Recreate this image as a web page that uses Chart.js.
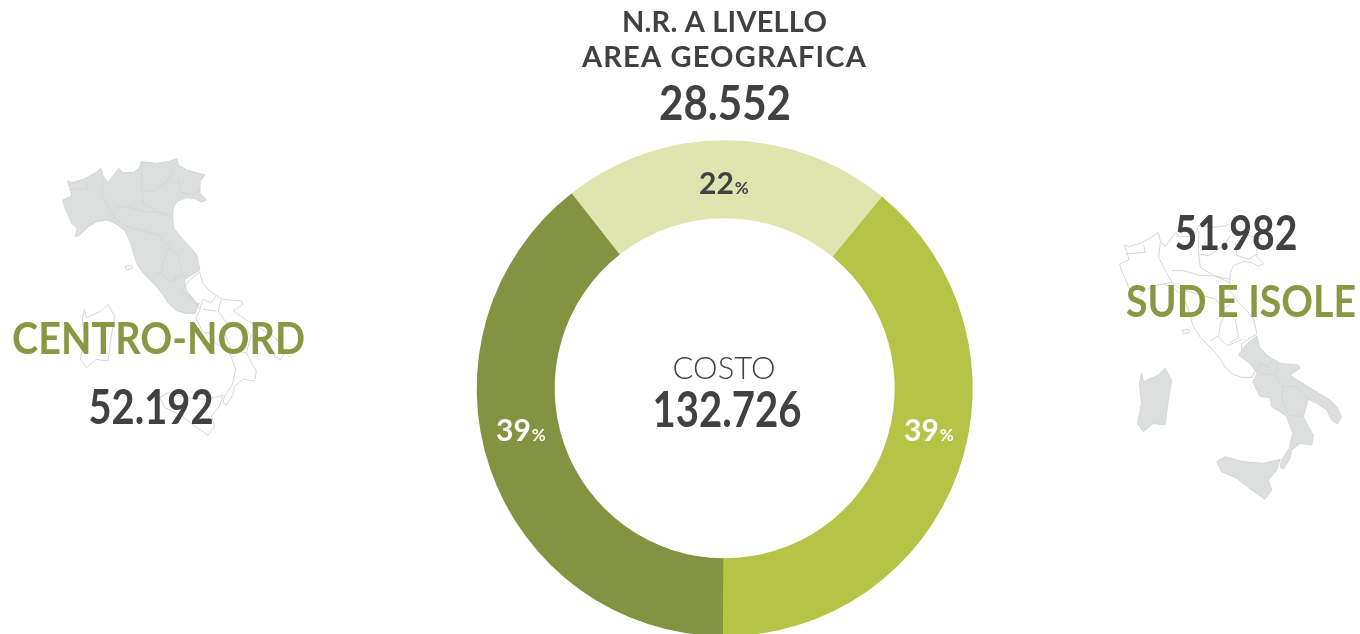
<!DOCTYPE html>
<html><head><meta charset="utf-8">
<style>html,body{margin:0;padding:0;background:#fff;overflow:hidden}#w{position:absolute;left:0;top:0;width:1360px;height:640px}</style>
<script src="https://cdn.jsdelivr.net/npm/chart.js@4"></script></head>
<body><div id="w"><canvas id="c" width="1360" height="640"></canvas></div>
<script>
const categories = ["N.R. a livello area geografica","Sud e Isole","Centro-Nord"];
const costValues = [28552,51982,52192];
const percentLabels = ["22","39","39"];
const sliceColors = ["#dfe5ae","#b5c447","#849341"];
const DARK="#404143", GREEN="#8a9844", MAP="#dddfdf", LINE="#d4d6d6";
const FONT='Lato, sans-serif';

// decorative map outlines, in zoom-crop units
const north=[203,122,215,128,250,118,275,105,290,95,303,85,310,110,325,128,345,100,357,85,368,98,400,98,418,85,424,65,470,70,505,65,530,55,535,75,560,90,615,105,600,125,600,160,620,180,603,186,590,178,560,172,530,185,520,205,518,225,520,262,545,295,570,320,590,345,600,390,575,405,553,420,556,440,560,452,590,490,598,490,585,520,555,520,530,512,505,490,490,465,465,435,440,410,430,400,410,370,402,345,392,310,375,272,345,250,320,240,290,245,265,260,240,285,225,290,232,265,215,250,205,225,195,205,188,180,215,168,212,150,203,125];
const northLines=[[310,115,305,160,325,200,345,235],[425,80,425,150,430,190,470,215,515,225],[345,200,380,200,430,215,470,215,518,235],[320,240,345,235,370,255],[370,255,420,270,475,285,500,315,520,300],[425,150,455,155,500,125,520,95],[535,120,540,155,575,165,600,150],[510,320,490,360,485,395,460,410],[510,325,535,345,545,400,520,415],[480,395,510,425,560,405],[205,150,265,145,260,125]];
const elba=[375,380,395,375,398,385,380,390];
const southMain=[470,408,478,440,500,465,520,478,540,490,595,495,600,505,570,525,600,545,640,570,690,600,710,620,725,650,712,672,695,660,680,630,650,610,625,598,610,650,625,680,640,705,635,735,600,730,575,750,570,775,550,808,540,800,545,780,568,745,578,700,560,650,535,632,515,620,510,592,480,590,458,545,472,520,450,490,415,465,440,432];
const sardinia=[125,520,130,545,175,525,195,505,215,540,205,600,195,675,160,670,130,695,112,670,125,610,118,550];
const sicily=[350,785,375,770,430,785,490,790,540,778,530,810,505,840,515,870,495,898,455,870,410,835,365,815];
const southLines=[[520,478,505,500,480,490,470,520],[535,490,525,525,550,560,590,560,625,598],[550,560,545,590,565,645,610,650],[480,520,520,525]];

function poly(ctx,p,close){ctx.beginPath();ctx.moveTo(p[0],p[1]);for(let i=2;i<p.length;i+=2)ctx.lineTo(p[i],p[i+1]);if(close)ctx.closePath();}
function drawMap(ctx,ox,oy,fillNorth){
  ctx.save();ctx.translate(ox,oy);ctx.scale(1/3,1/3);ctx.lineJoin='round';
  ctx.lineWidth=3;ctx.strokeStyle=LINE;ctx.fillStyle=MAP;
  poly(ctx,north,true);if(fillNorth)ctx.fill();ctx.stroke();
  northLines.forEach(l=>{poly(ctx,l,false);ctx.stroke();});
  poly(ctx,elba,true);ctx.stroke();
  ctx.translate(129,-12);
  [southMain,sardinia,sicily].forEach(s=>{poly(ctx,s,true);if(!fillNorth)ctx.fill();ctx.stroke();});
  southLines.forEach(l=>{poly(ctx,l,false);ctx.stroke();});
  ctx.restore();
}
// text centred on cx, fitted to a target width
function txt(ctx,s,cx,base,size,weight,color,target){
  ctx.font=weight+' '+size+'px '+FONT;ctx.fillStyle=color;ctx.textAlign='center';ctx.textBaseline='alphabetic';
  const w=ctx.measureText(s).width;
  if(w<target){ctx.letterSpacing=((target-w)/s.length)+'px';ctx.fillText(s,cx,base);ctx.letterSpacing='0px';}
  else ctx.fillText(s,cx,base,target);
}
function pct(ctx,s,left,base,color,weight){
  ctx.textBaseline='alphabetic';ctx.textAlign='left';ctx.fillStyle=color;
  ctx.font=weight+' 30px '+FONT;const a=ctx.measureText(s).width;ctx.fillText(s,left,base);
  ctx.font=weight+' 17px '+FONT;ctx.fillText('%',left+a+1,base);
}
const background={id:'background',beforeDraw(ch){
  const c=ch.ctx;
  drawMap(c,0,140,true);
  drawMap(c,1057,204,false);
}};
const overlay={id:'overlay',afterDraw(ch){
  const c=ch.ctx;
  txt(c,'N.R. A LIVELLO',724.5,32,29,700,DARK,205);
  txt(c,'AREA GEOGRAFICA',724.5,67,29,700,DARK,285);
  txt(c,'28.552',725,120,47,700,DARK,132);
  txt(c,'COSTO',724,379,31,300,DARK,103);
  txt(c,'132.726',727,427,49,700,DARK,149);
  txt(c,'CENTRO-NORD',158.5,354,44,700,GREEN,293);
  txt(c,'52.192',151,424,47,700,DARK,125);
  txt(c,'51.982',1236,250,47,700,DARK,123);
  txt(c,'SUD E ISOLE',1241,317,44,700,GREEN,230);
  pct(c,percentLabels[0],699,193.5,DARK,700);
  pct(c,percentLabels[1],904,441,'#fff',700);
  pct(c,percentLabels[2],496,441,'#fff',700);
}};
new Chart(document.getElementById('c'),{
  type:'doughnut',
  data:{labels:categories,datasets:[{data:costValues,backgroundColor:sliceColors,borderWidth:0}]},
  options:{responsive:false,animation:false,rotation:-38.1,cutout:'68.55%',
    layout:{padding:{left:476.7,right:387.3,top:140.3,bottom:3.7}},
    plugins:{legend:{display:false},title:{display:false},tooltip:{enabled:false}}},
  plugins:[background,overlay]
});
</script></body></html>
